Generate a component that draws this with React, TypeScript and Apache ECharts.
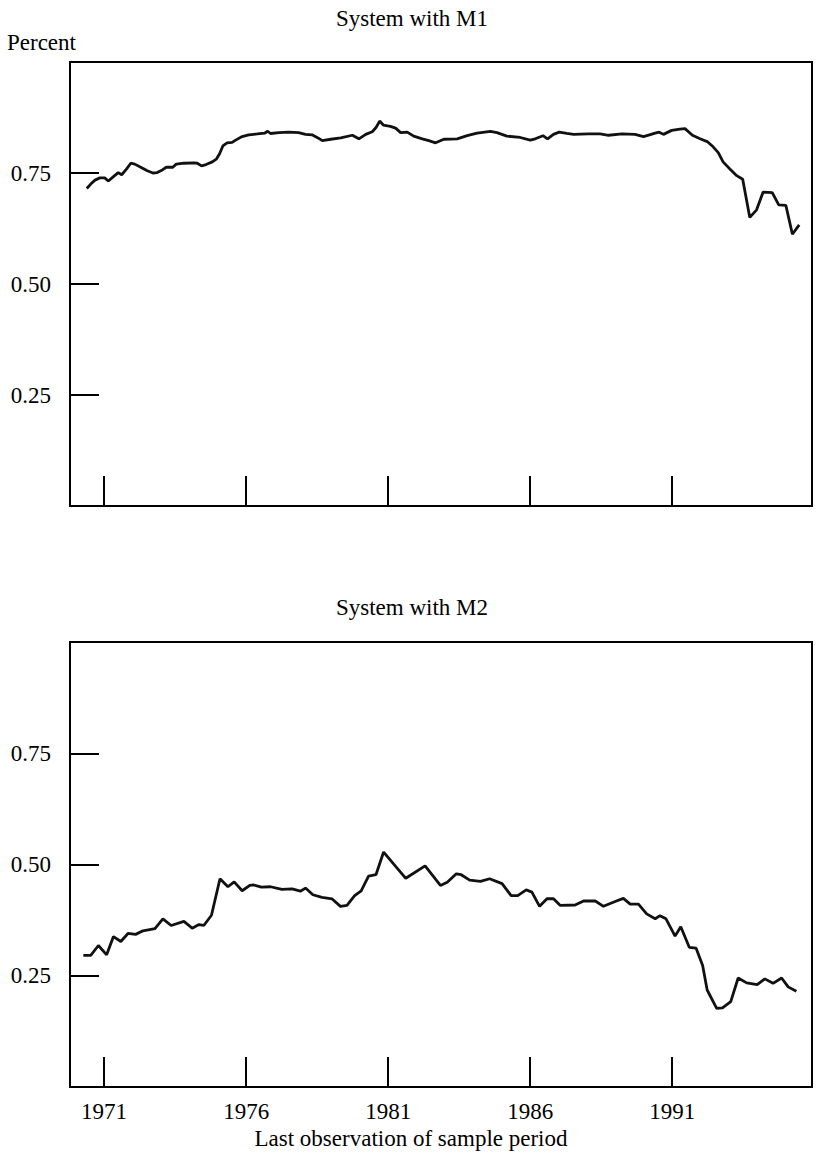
import React, { useEffect, useRef } from "react";
import * as echarts from "echarts";

// ---- Data ----
const m1Years = [
  1970.39, 1970.53, 1970.68, 1970.85, 1971.02, 1971.15, 1971.35, 1971.5, 1971.62, 1971.78,
  1971.94, 1972.08, 1972.29, 1972.52, 1972.72, 1972.87, 1973.05, 1973.19, 1973.42, 1973.54,
  1973.81, 1974.16, 1974.28, 1974.43, 1974.59, 1974.81, 1974.96, 1975.07, 1975.18, 1975.33,
  1975.51, 1975.63, 1975.86, 1976.09, 1976.39, 1976.66, 1976.76, 1976.86, 1977.15, 1977.5,
  1977.85, 1978.09, 1978.32, 1978.53, 1978.68, 1978.98, 1979.33, 1979.74, 1979.97, 1980.21,
  1980.44, 1980.58, 1980.7, 1980.83, 1981.08, 1981.26, 1981.44, 1981.67, 1981.9, 1982.2,
  1982.43, 1982.67, 1982.96, 1983.43, 1983.78, 1984.13, 1984.6, 1984.83, 1985.18, 1985.65,
  1986.0, 1986.18, 1986.45, 1986.61, 1986.82, 1987.02, 1987.29, 1987.53, 1988.05, 1988.46,
  1988.76, 1989.23, 1989.69, 1989.99, 1990.4, 1990.54, 1990.69, 1990.98, 1991.27, 1991.45,
  1991.71, 1991.98, 1992.25, 1992.44, 1992.62, 1992.79, 1993.03, 1993.27, 1993.48, 1993.73,
  1993.97, 1994.2, 1994.52, 1994.75, 1995.0, 1995.23, 1995.47,
];
const m1Values = [
  0.715, 0.725, 0.734, 0.739, 0.739, 0.732, 0.743, 0.751, 0.746, 0.758,
  0.772, 0.77, 0.763, 0.755, 0.75, 0.751, 0.757, 0.763, 0.763, 0.77,
  0.772, 0.773, 0.772, 0.766, 0.769, 0.775, 0.782, 0.794, 0.811, 0.818,
  0.819, 0.824, 0.832, 0.836, 0.838, 0.84, 0.844, 0.839, 0.841, 0.842,
  0.841, 0.837, 0.836, 0.829, 0.823, 0.826, 0.829, 0.835, 0.827, 0.837,
  0.843, 0.853, 0.867, 0.858, 0.855, 0.851, 0.841, 0.842, 0.833, 0.827,
  0.823, 0.818, 0.826, 0.827, 0.834, 0.84, 0.844, 0.841, 0.833, 0.83,
  0.824, 0.827, 0.834, 0.827, 0.837, 0.842, 0.839, 0.837, 0.838, 0.838,
  0.835, 0.838, 0.837, 0.832, 0.84, 0.842, 0.837, 0.846, 0.849, 0.85,
  0.835, 0.827, 0.82, 0.809, 0.796, 0.775, 0.759, 0.744, 0.736, 0.65,
  0.667, 0.707, 0.706, 0.678, 0.677, 0.612, 0.633,
];

const m2Years = [
  1970.27, 1970.53, 1970.8, 1971.09, 1971.33, 1971.59, 1971.84, 1972.11, 1972.37, 1972.79,
  1973.07, 1973.36, 1973.81, 1974.1, 1974.34, 1974.51, 1974.78, 1975.08, 1975.36, 1975.58,
  1975.86, 1976.13, 1976.27, 1976.54, 1976.86, 1977.26, 1977.62, 1977.91, 1978.09, 1978.35,
  1978.67, 1979.02, 1979.32, 1979.55, 1979.82, 1980.05, 1980.31, 1980.57, 1980.84, 1981.62,
  1982.3, 1982.84, 1983.08, 1983.4, 1983.57, 1983.87, 1984.25, 1984.57, 1985.01, 1985.33,
  1985.56, 1985.86, 1986.06, 1986.33, 1986.59, 1986.82, 1987.06, 1987.58, 1987.88, 1988.29,
  1988.58, 1988.99, 1989.28, 1989.52, 1989.81, 1990.1, 1990.4, 1990.57, 1990.78, 1991.1,
  1991.3, 1991.6, 1991.84, 1992.07, 1992.23, 1992.56, 1992.77, 1993.06, 1993.32, 1993.62,
  1993.99, 1994.26, 1994.55, 1994.85, 1995.08, 1995.37,
];
const m2Values = [
  0.296, 0.296, 0.318, 0.297, 0.338, 0.327, 0.345, 0.343, 0.351, 0.356,
  0.378, 0.363, 0.372, 0.357, 0.365, 0.363, 0.386, 0.468, 0.45, 0.461,
  0.441, 0.453, 0.454, 0.449, 0.45, 0.444, 0.445, 0.44, 0.447, 0.432,
  0.426, 0.423, 0.406, 0.408, 0.43, 0.441, 0.474, 0.477, 0.528, 0.469,
  0.497, 0.453, 0.46, 0.479, 0.477, 0.465, 0.462, 0.468, 0.457, 0.43,
  0.43, 0.443, 0.438, 0.406, 0.423, 0.423, 0.408, 0.409, 0.418, 0.418,
  0.406, 0.417, 0.424, 0.411, 0.411, 0.389, 0.378, 0.385, 0.378, 0.339,
  0.36, 0.314, 0.312, 0.273, 0.218, 0.177, 0.178, 0.192, 0.245, 0.234,
  0.23, 0.243, 0.233, 0.245, 0.225, 0.215,
];

const xTickYears = [1971, 1976, 1981, 1986, 1991];
const yTickValues = [0.25, 0.5, 0.75];

const titleTop = "System with M1";
const titleBottom = "System with M2";
const yUnit = "Percent";
const xTitle = "Last observation of sample period";

const FONT = "'Liberation Serif', 'DejaVu Serif', serif";
const FS = 23;

export default function App() {
  const ref = useRef<HTMLDivElement>(null);

  useEffect(() => {
    if (!ref.current) return;
    const chart = echarts.init(ref.current, undefined, { renderer: "svg" });

    const X_MIN = 1969.8;
    const X_MAX = 1995.92;

    const xAxisBase = (gridIndex: number, showLabels: boolean) => ({
      type: "value" as const,
      gridIndex,
      min: X_MIN,
      max: X_MAX,
      splitLine: { show: false },
      axisLine: { show: false },
      axisTick: {
        show: true,
        inside: true,
        length: 30,
        customValues: xTickYears,
        lineStyle: { color: "#000", width: 2 },
      },
      axisLabel: {
        show: showLabels,
        customValues: xTickYears,
        margin: 13,
        color: "#000",
        fontFamily: FONT,
        fontSize: FS,
        formatter: (v: number) => String(Math.round(v)),
      },
    });

    const yAxisBase = (gridIndex: number) => ({
      type: "value" as const,
      gridIndex,
      min: 0,
      max: 1,
      splitLine: { show: false },
      axisLine: { show: false },
      axisTick: {
        show: true,
        inside: true,
        length: 29,
        customValues: yTickValues,
        lineStyle: { color: "#000", width: 2 },
      },
      axisLabel: {
        show: true,
        customValues: yTickValues,
        margin: 19,
        color: "#000",
        fontFamily: FONT,
        fontSize: FS,
        formatter: (v: number) => v.toFixed(2),
      },
    });

    const lineStyle = { color: "#111", width: 2.8 };

    chart.setOption({
      animation: false,
      backgroundColor: "#fff",
      grid: [
        { left: 70, width: 742, top: 62, height: 444, show: true, borderColor: "#000", borderWidth: 2, containLabel: false },
        { left: 70, width: 742, top: 642, height: 445, show: true, borderColor: "#000", borderWidth: 2, containLabel: false },
      ],
      xAxis: [xAxisBase(0, false), xAxisBase(1, true)],
      yAxis: [yAxisBase(0), yAxisBase(1)],
      series: [
        {
          type: "line",
          xAxisIndex: 0,
          yAxisIndex: 0,
          showSymbol: false,
          data: m1Years.map((y, i) => [y, m1Values[i]]),
          lineStyle,
        },
        {
          type: "line",
          xAxisIndex: 1,
          yAxisIndex: 1,
          showSymbol: false,
          data: m2Years.map((y, i) => [y, m2Values[i]]),
          lineStyle,
        },
      ],
      graphic: [
        {
          type: "text",
          x: 412,
          y: 18,
          style: { text: titleTop, font: `${FS}px ${FONT}`, fill: "#000", textAlign: "center", textVerticalAlign: "middle" },
        },
        {
          type: "text",
          x: 7,
          y: 42,
          style: { text: yUnit, font: `${FS}px ${FONT}`, fill: "#000", textAlign: "left", textVerticalAlign: "middle" },
        },
        {
          type: "text",
          x: 412,
          y: 607,
          style: { text: titleBottom, font: `${FS}px ${FONT}`, fill: "#000", textAlign: "center", textVerticalAlign: "middle" },
        },
        {
          type: "text",
          x: 411,
          y: 1138,
          style: { text: xTitle, font: `${FS}px ${FONT}`, fill: "#000", textAlign: "center", textVerticalAlign: "middle" },
        },
      ],
    });

    return () => chart.dispose();
  }, []);

  return (
    <div
      ref={ref}
      style={{ position: "absolute", left: 0, top: 0, width: 816, height: 1159 }}
    />
  );
}
